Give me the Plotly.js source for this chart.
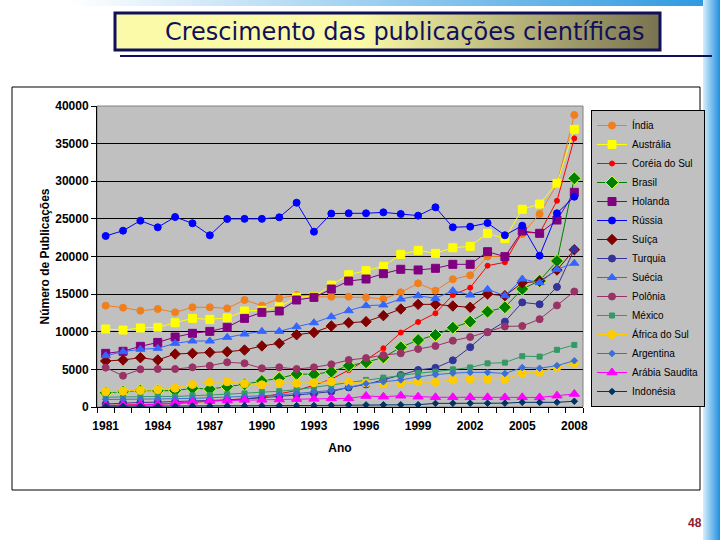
<!DOCTYPE html>
<html>
<head>
<meta charset="utf-8">
<script src="https://cdn.plot.ly/plotly-3.0.1.min.js"></script>
<style>html,body{margin:0;padding:0;background:#fff;}#chart{width:720px;height:540px;}</style>
</head>
<body>
<div id="chart"></div>
<script>
// ---- data ----
const years = [1981,1982,1983,1984,1985,1986,1987,1988,1989,1990,1991,1992,1993,1994,1995,1996,1997,1998,1999,2000,2001,2002,2003,2004,2005,2006,2007,2008];
const tickYears = [1981,1984,1987,1990,1993,1996,1999,2002,2005,2008];
const seriesNames = ["Índia","Austrália","Coréia do Sul","Brasil","Holanda","Rússia","Suíça","Turquia","Suécia","Polônia","México","África do Sul","Argentina","Arábia Saudita","Indonésia"];
const india = [13470,13200,12800,13020,12580,13250,13250,13110,14220,13470,14440,14880,14660,14660,14660,14570,14350,15240,16430,15460,16970,17500,20000,19980,23000,25650,29600,38800];
const australia = [10370,10230,10500,10590,11200,11780,11650,11850,12760,12850,13300,14600,14700,16200,17580,18120,18690,20290,20820,20420,21170,21350,23080,22370,26270,26970,29730,36900];
const coreia = [200,250,300,350,450,600,750,900,1100,1300,1700,2200,2900,3700,4900,6250,7800,9900,11300,12450,14880,15860,18780,19230,23250,23100,27400,35700];
const brasil = [1900,2030,2170,2170,2170,2480,2390,2700,3010,3460,3810,4390,4340,4690,5490,5940,6600,7930,8900,9570,10540,11340,12670,13250,15680,16790,19400,30390];
const holanda = [7130,7400,8060,8580,9300,9790,10050,10590,11780,12580,12760,14220,14570,15680,16740,17010,17720,18300,18210,18430,18960,18960,20640,19980,23390,23080,24850,28530];
const russia = [22730,23430,24760,23880,25250,24410,22820,24990,25000,25000,25210,27150,23300,25700,25740,25740,25870,25650,25430,26540,23880,23970,24450,22820,24100,20110,25740,27950];
const suica = [6110,6250,6550,6250,7040,7130,7260,7350,7570,8110,8460,9600,9900,10760,11200,11340,12140,13020,13640,13640,13420,13250,15020,14790,16500,16700,18200,20900];
const turquia = [400,550,600,650,700,800,850,950,1050,1200,1400,1600,1800,2050,2600,3000,3600,4250,4920,5200,6200,7950,9950,11340,13900,13650,15950,20950];
const suecia = [6820,7350,7670,7800,8460,8770,8770,9260,9700,10050,10050,10670,11200,12000,12800,13470,13560,14350,14790,14440,15460,14880,15640,14790,17010,16520,18300,19100];
const polonia = [5230,4160,5010,5050,5050,5270,5490,5940,5810,5140,5270,5050,5270,5670,6250,6500,6900,7130,7710,8110,8810,9300,9950,10700,10760,11670,13500,15350];
const mexico = [1300,1350,1350,1400,1400,1550,1600,1700,1800,2000,2100,2300,2600,2900,3200,3600,3900,4200,4500,4700,5000,5250,5800,5900,6750,6700,7600,8250];
const africaSul = [2030,2100,2200,2300,2500,3000,3300,3350,3100,2950,3200,3150,3230,3370,3280,3200,3060,3150,3350,3280,3590,3720,3680,3680,4480,4610,5300,5800];
const argentina = [1000,1000,1050,1050,1100,1150,1200,1300,1400,1500,1600,1800,2000,2200,2600,3100,3350,3600,4000,4300,4500,4600,4600,4450,5250,5150,5500,6150];
const arabia = [150,250,300,350,550,700,800,850,950,950,1000,1050,1080,1150,1150,1460,1370,1500,1370,1290,1290,1290,1290,1270,1290,1270,1500,1730];
const indonesia = [100,100,110,110,120,130,140,150,160,170,180,190,200,220,270,280,290,300,310,480,490,500,500,510,620,600,620,760];

const seriesValues = [india,australia,coreia,brasil,holanda,russia,suica,turquia,suecia,polonia,mexico,africaSul,argentina,arabia,indonesia];

// ---- styles ----
const styles = [
  {line:'#F07F1E', sym:'circle', size:7, fill:'#F07F1E', mline:'#F07F1E'},
  {line:'#FFFF00', sym:'square', size:8, fill:'#FFFF00', mline:'#FFFF00'},
  {line:'#FF0000', sym:'circle', size:5, fill:'#FF0000', mline:'#FF0000'},
  {line:'#008000', sym:'diamond', size:10, fill:'#008000', mline:'#CCFF33'},
  {line:'#800080', sym:'square', size:8, fill:'#800080', mline:'#800080'},
  {line:'#0000FF', sym:'circle', size:7, fill:'#0000FF', mline:'#0000FF'},
  {line:'#800000', sym:'diamond', size:8, fill:'#800000', mline:'#800000'},
  {line:'#333399', sym:'circle', size:7, fill:'#333399', mline:'#333399'},
  {line:'#3366FF', sym:'triangle-up', size:8, fill:'#3366FF', mline:'#3366FF'},
  {line:'#993366', sym:'circle', size:7, fill:'#993366', mline:'#993366'},
  {line:'#339966', sym:'square', size:5, fill:'#339966', mline:'#339966'},
  {line:'#FFCC00', sym:'circle', size:8, fill:'#FFCC00', mline:'#FFCC00'},
  {line:'#3A6FD8', sym:'diamond', size:5, fill:'#3A6FD8', mline:'#3A6FD8'},
  {line:'#FF00FF', sym:'triangle-up', size:9, fill:'#FF00FF', mline:'#FF00FF'},
  {line:'#003366', sym:'diamond', size:5, fill:'#003366', mline:'#003366'}
];

const traces = seriesNames.map((n,i)=>({
  type:'scatter', mode:'lines+markers', name:n, x:years, y:seriesValues[i],
  line:{color:styles[i].line, width:1},
  marker:{symbol:styles[i].sym, size:styles[i].size, color:styles[i].fill, line:{color:styles[i].mline, width:1}}
}));

const W=720, H=540;
const px = x => x/W, py = y => 1 - y/H;

function gradSvg(c1, c2, hold){
  const svg = `<svg xmlns="http://www.w3.org/2000/svg" width="100" height="100" preserveAspectRatio="none"><defs><linearGradient id="g" x1="0" y1="0" x2="1" y2="0"><stop offset="0" stop-color="${c1}"/><stop offset="${hold}" stop-color="${c1}"/><stop offset="1" stop-color="${c2}"/></linearGradient></defs><rect width="100" height="100" fill="url(#g)"/></svg>`;
  return 'data:image/svg+xml;charset=utf-8,' + encodeURIComponent(svg);
}

const layout = {
  width:W, height:H,
  margin:{l:0,r:0,t:0,b:0},
  paper_bgcolor:'#FFFFFF',
  plot_bgcolor:'#C0C0C0',
  showlegend:true,
  xaxis:{
    domain:[px(97), px(583)],
    range:[1980.5, 2008.5],
    tickmode:'array', tickvals:tickYears, ticktext:tickYears.map(String),
    ticks:'', showgrid:false, zeroline:false,
    showline:true, linecolor:'#000', linewidth:1,
    ticklabelstandoff:8,
    tickfont:{family:'Liberation Sans, Arial, sans-serif', size:12, color:'#000', weight:'bold'},
    minor:{tickmode:'linear', tick0:0.5, dtick:1, ticks:'outside', ticklen:5, tickcolor:'#000', tickwidth:1, showgrid:false},
    title:{text:'Ano', font:{family:'Liberation Sans, Arial, sans-serif', size:12, color:'#000', weight:'bold'}, standoff:11},
    automargin:false, fixedrange:true
  },
  yaxis:{
    domain:[py(407), py(106)],
    range:[0,40000], tickmode:'linear', tick0:0, dtick:5000, tickformat:'d',
    ticks:'outside', ticklen:5, tickcolor:'#000',
    showgrid:true, gridcolor:'#000', gridwidth:1, zeroline:false,
    showline:true, linecolor:'#000', linewidth:1,
    tickfont:{family:'Liberation Sans, Arial, sans-serif', size:12, color:'#000', weight:'bold'},
    title:{text:'Número de Publicações', font:{family:'Liberation Sans, Arial, sans-serif', size:12, color:'#000', weight:'bold'}, standoff:3},
    automargin:false, fixedrange:true
  },
  legend:{
    x:px(591), y:py(110), xanchor:'left', yanchor:'top',
    bgcolor:'#C0C0C0', bordercolor:'#000', borderwidth:1,
    font:{family:'Liberation Sans, Arial, sans-serif', size:10, color:'#000'},
    tracegroupgap:0
  },
  images:[
    {source:gradSvg('#FFFFFF','#2A97E0',0), xref:'paper', yref:'paper', x:px(70), y:py(0), sizex:px(720)-px(70), sizey:6/H, sizing:'stretch', xanchor:'left', yanchor:'top', layer:'below'},
    {source:gradSvg('#D8EEFB','#1E8FE0',0), xref:'paper', yref:'paper', x:px(703), y:py(0), sizex:px(720)-px(703), sizey:1, sizing:'stretch', xanchor:'left', yanchor:'top', layer:'below'},
    {source:gradSvg('#FAFAA8','#7A7350',0.45), xref:'paper', yref:'paper', x:px(116), y:py(14), sizex:px(659)-px(116), sizey:35/H, sizing:'stretch', xanchor:'left', yanchor:'top', layer:'below'}
  ],
  shapes:[
    {type:'rect', xref:'paper', yref:'paper', x0:px(12), x1:px(700), y0:py(490), y1:py(87), line:{color:'#000', width:1}, fillcolor:'rgba(0,0,0,0)', layer:'below'},
    {type:'rect', xref:'paper', yref:'paper', x0:px(97), x1:px(583), y0:py(407), y1:py(106), line:{color:'#808080', width:1}, fillcolor:'rgba(0,0,0,0)', layer:'below'},
    {type:'rect', xref:'paper', yref:'paper', x0:px(115), x1:px(660), y0:py(50), y1:py(13), line:{color:'#10105A', width:3}, fillcolor:'rgba(0,0,0,0)', layer:'above'},
    {type:'line', xref:'paper', yref:'paper', x0:px(120), x1:px(712), y0:py(56), y1:py(56), line:{color:'#10105A', width:2}, layer:'above'}
  ],
  annotations:[
    {text:'Crescimento das publicações científicas', xref:'paper', yref:'paper', x:px(405), y:py(32), xanchor:'center', yanchor:'middle', showarrow:false,
     font:{family:'DejaVu Sans, Verdana, sans-serif', size:24, color:'#10105A'}},
    {text:'48', xref:'paper', yref:'paper', x:px(704), y:py(523), xanchor:'right', yanchor:'middle', showarrow:false,
     font:{family:'Liberation Sans, Arial, sans-serif', size:12, color:'#8B1A2A', weight:'bold'}}
  ]
};

Plotly.newPlot('chart', traces, layout, {staticPlot:true, displayModeBar:false});
</script>
</body>
</html>
